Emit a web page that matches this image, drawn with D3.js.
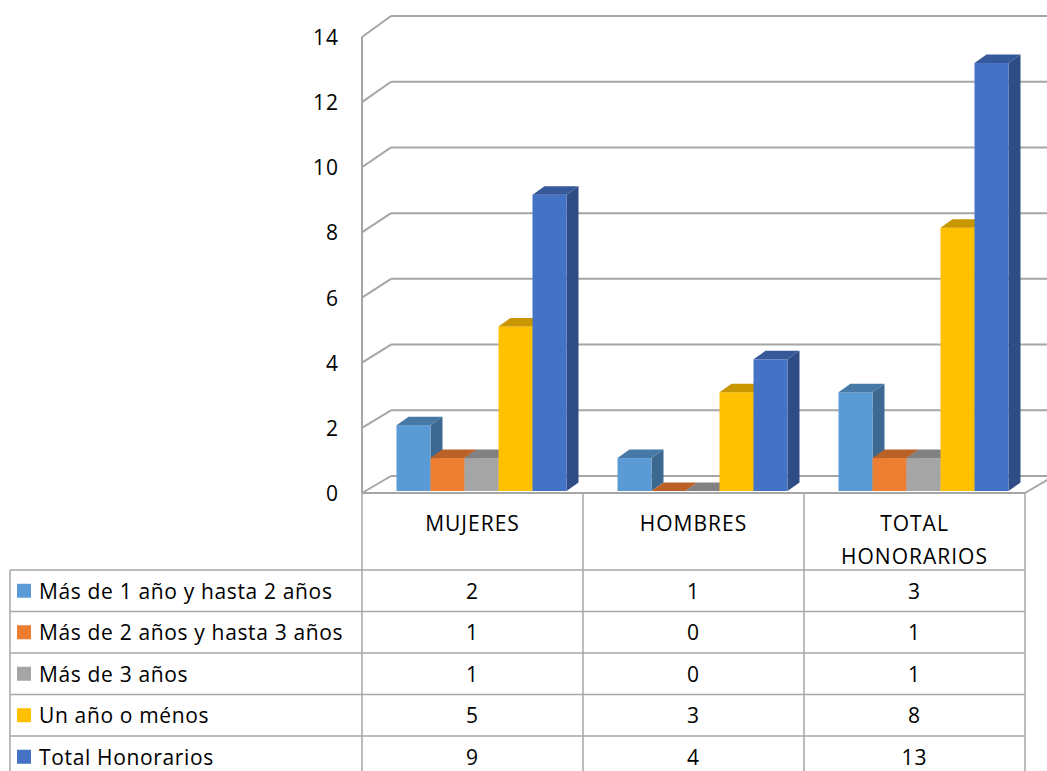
<!DOCTYPE html>
<html lang="es">
<head>
<meta charset="UTF-8">
<title>Honorarios</title>
<style>
  body { margin: 0; background: #fff; }
  text { font-family: "Open Sans", "Noto Sans", sans-serif; fill: #000; letter-spacing: 1px; }
  .legend-label { letter-spacing: 0.65px; }
  .grid { stroke: #a6a6a6; stroke-width: 2; fill: none; }
  .cell { stroke: #a6a6a6; stroke-width: 1.5; fill: none; }
</style>
<script src="https://d3js.org/d3.v7.min.js"></script>
</head>
<body>
<svg width="1047" height="771"></svg>
<script>
// data
const categories = ["MUJERES", "HOMBRES", "TOTAL HONORARIOS"];
const seriesNames = [
  "Más de 1 año y hasta 2 años",
  "Más de 2 años y hasta 3 años",
  "Más de 3 años",
  "Un año o ménos",
  "Total Honorarios"
];
const seriesColors = ["#5b9bd5", "#ed7d31", "#a5a5a5", "#ffc000", "#4472c4"];
const values = [
  [2, 1, 3],
  [1, 0, 1],
  [1, 0, 1],
  [5, 3, 8],
  [9, 4, 13]
];
const yTicks = [0, 2, 4, 6, 8, 10, 12, 14];

const svg = d3.select("svg");

// layout of the 3D box
const left = 362, right = 1025, backLeft = 391, backRight = 1047;
const yFront = d3.scaleLinear().domain([0, 14]).range([493, 37]);
const yBack = d3.scaleLinear().domain([0, 14]).range([476, 16]);
const yBar = d3.scaleLinear().domain([0, 14]).range([491, 491 - 14 * 32.92]);
const barShift = 9, depthX = 12, depthY = -8.5;

const xCat = d3.scaleBand().domain(categories).range([left, right]);
const xSer = d3.scaleBand().domain(seriesNames)
  .range([0, xCat.bandwidth()]).paddingOuter(0.75);

// back wall gridlines
svg.append("g").selectAll("line").data(yTicks).join("line")
  .attr("class", "grid")
  .attr("x1", backLeft).attr("x2", backRight)
  .attr("y1", d => yBack(d)).attr("y2", d => yBack(d));

// left wall diagonals
svg.append("g").selectAll("line").data(yTicks).join("line")
  .attr("class", "grid")
  .attr("x1", left).attr("x2", backLeft)
  .attr("y1", d => yFront(d)).attr("y2", d => yBack(d));

// tick labels
svg.append("g").selectAll("text").data(yTicks).join("text")
  .attr("x", 339).attr("y", d => yFront(d) + 8)
  .attr("text-anchor", "end")
  .style("font-size", "21px")
  .text(d => d);

// bars
const bars = [];
categories.forEach((c, ci) => {
  seriesNames.forEach((s, si) => {
    bars.push({ c, s, v: values[si][ci], color: seriesColors[si] });
  });
});

const gb = svg.append("g");
bars.forEach(b => {
  const x0 = xCat(b.c) + xSer(b.s) + barShift;
  const x1 = x0 + xSer.bandwidth();
  const yb = yBar(0), yt = yBar(b.v);
  const base = d3.color(b.color);
  const g = gb.append("g");
  if (b.v > 0) {
    g.append("path")
      .attr("d", `M${x1},${yt}L${x1 + depthX},${yt + depthY}L${x1 + depthX},${yb + depthY}L${x1},${yb}Z`)
      .attr("fill", base.darker(1.1));
    g.append("rect")
      .attr("x", x0).attr("y", yt)
      .attr("width", x1 - x0).attr("height", yb - yt)
      .attr("fill", b.color);
  }
  g.append("path")
    .attr("d", `M${x0},${yt}L${x0 + depthX},${yt + depthY}L${x1 + depthX},${yt + depthY}L${x1},${yt}Z`)
    .attr("fill", base.darker(0.7));
});

// floor front edge
svg.append("line").attr("class", "grid")
  .attr("x1", left).attr("x2", right)
  .attr("y1", yFront(0)).attr("y2", yFront(0));
svg.append("line").attr("class", "grid")
  .attr("x1", right).attr("x2", right + (backLeft - left))
  .attr("y1", yFront(0)).attr("y2", yBack(0));
// left axis edge
svg.append("line").attr("class", "grid")
  .attr("x1", left).attr("x2", left)
  .attr("y1", yFront(14)).attr("y2", yFront(0));

// data table
const tableTop = yFront(0), headBottom = 570, rowH = 41.5, tableLeft = 10, tableBottom = 771;
const gt = svg.append("g");
const colEdges = [left].concat(categories.map(c => xCat(c) + xCat.bandwidth()));
colEdges.forEach(x => {
  gt.append("line").attr("class", "cell")
    .attr("x1", x).attr("x2", x)
    .attr("y1", tableTop).attr("y2", tableBottom);
});
gt.append("line").attr("class", "cell")
  .attr("x1", tableLeft).attr("x2", tableLeft)
  .attr("y1", headBottom).attr("y2", tableBottom);
seriesNames.forEach((s, i) => {
  const y = headBottom + i * rowH;
  gt.append("line").attr("class", "cell")
    .attr("x1", tableLeft).attr("x2", right)
    .attr("y1", y).attr("y2", y);
});

// category headers
categories.forEach(c => {
  const words = c.split(" ");
  const t = gt.append("text")
    .attr("text-anchor", "middle")
    .style("font-size", "21px");
  words.forEach((w, i) => {
    t.append("tspan")
      .attr("x", xCat(c) + xCat.bandwidth() / 2)
      .attr("y", 531 + i * 33)
      .text(w);
  });
});

// legend rows and values
seriesNames.forEach((s, si) => {
  const yc = headBottom + si * rowH + rowH / 2;
  gt.append("rect")
    .attr("x", 17).attr("y", yc - 7)
    .attr("width", 14).attr("height", 14)
    .attr("fill", seriesColors[si]);
  gt.append("text")
    .attr("class", "legend-label")
    .attr("x", 39).attr("y", yc + 8)
    .style("font-size", "21px")
    .text(s);
  categories.forEach((c, ci) => {
    gt.append("text")
      .attr("x", xCat(c) + xCat.bandwidth() / 2)
      .attr("y", yc + 8)
      .attr("text-anchor", "middle")
      .style("font-size", "21px")
      .text(values[si][ci]);
  });
});
</script>
</body>
</html>
